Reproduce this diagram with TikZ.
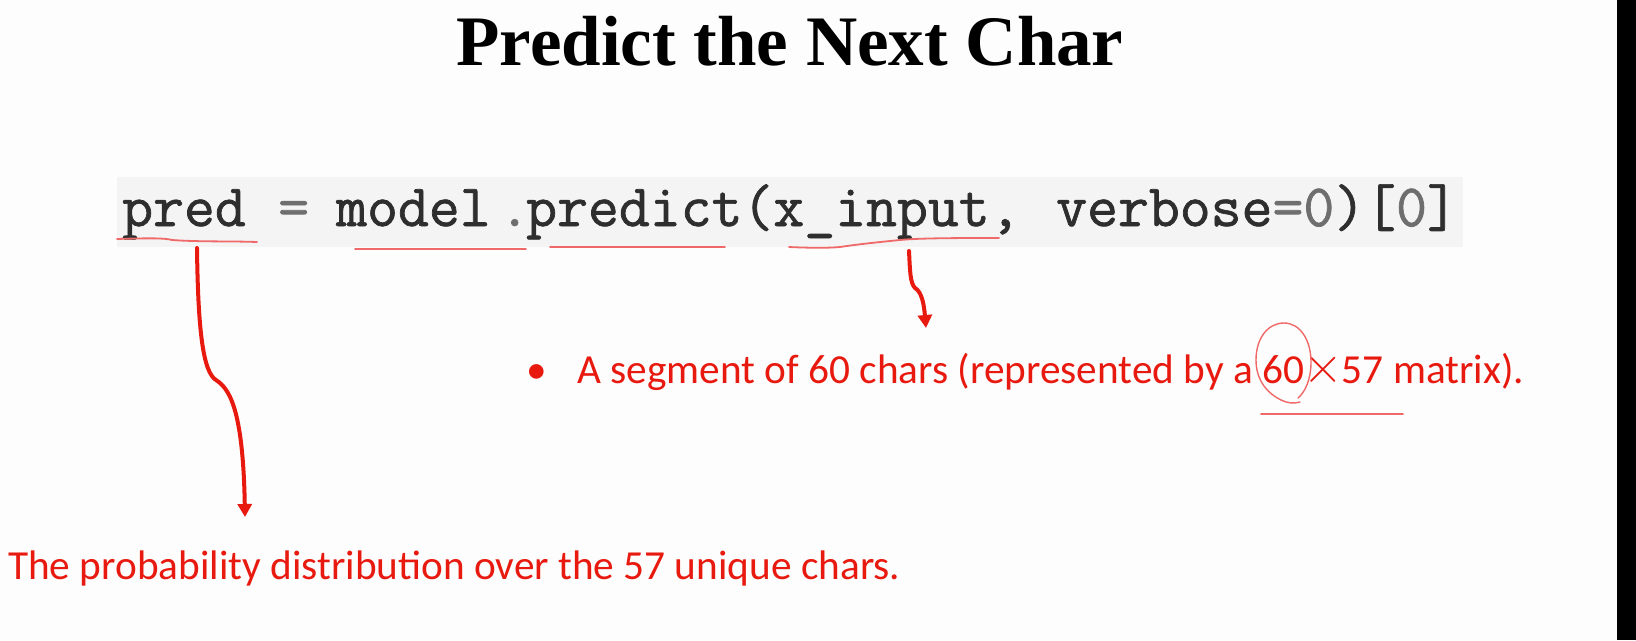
\documentclass[tikz,border=0pt]{standalone}
\usepackage{fontspec}
\usetikzlibrary{arrows.meta}
\newfontfamily\titlefont{Liberation Serif}
\newfontfamily\codefont{Latin Modern Mono}[FakeBold=1.2]
\newfontfamily\notefont{Carlito}
\newfontfamily\timesfont{Latin Modern Roman}
\definecolor{bgc}{HTML}{FDFDFD}
\definecolor{codebg}{HTML}{F4F4F4}
\definecolor{codetxt}{HTML}{2E2E2E}
\definecolor{codegray}{HTML}{6E6E6E}
\definecolor{annred}{RGB}{232,25,15}
\definecolor{penred}{RGB}{240,105,105}
\tikzset{
  title/.style={font=\titlefont\bfseries\fontsize{71}{80}\selectfont, text=black, inner sep=0pt},
  code/.style={font=\codefont\fontsize{60}{66}\selectfont, text=codetxt, inner sep=0pt, anchor=base west},
  codeop/.style={code, text=codegray},
  note/.style={font=\notefont\fontsize{41.3}{48}\selectfont, text=annred, inner sep=0pt},
  pen/.style={draw=penred, line width=1.8pt, line cap=round, line join=round},
  bigarrow/.style={draw=annred, line width=4pt, line cap=round, -{Triangle[width=14pt,length=13pt]}},
}
\begin{document}
\begin{tikzpicture}[x=1pt,y=-1pt]
\fill[bgc] (0,0) rectangle (1636,640);
\useasboundingbox (0,0) rectangle (1636,640);
\fill[black] (1617,0) rectangle (1636,640);
% title
\node[title, anchor=base] (ttl) at (790,65) {Predict the Next Char};
% code box
\fill[codebg] (117,177) rectangle (1463,247);
\node[code] (cpred) at (122,226) {pred};
\node[codeop] (ceq) at (278,226) {=};
\node[code] (cmodel) at (336,226) {model};
\node[codeop] (cdot) at (499,226) {.};
\node[code] (cpredict) at (526,226) {predict(x\_input,};
\node[code] (cverb) at (1056,226) {verbose\textcolor{codegray}{=0})[\textcolor{codegray}{0}]};
% pen underlines
\draw[pen] (117,239) .. controls (150,238) and (165,238) .. (172,240) .. controls (200,242) and (230,241) .. (257,242);
\draw[pen] (355,249) -- (526,249);
\draw[pen] (550,247) -- (725,247);
\draw[pen] (789,247) .. controls (810,248) and (830,248) .. (840,247) .. controls (860,244) and (880,242) .. (900,240) .. controls (920,238) and (960,238) .. (999,238);
% annotations
\node[note, anchor=base west] (bottomnote) at (8,579) {The probability distribution over the 57 unique chars.};
\node[note, anchor=base] (bullet) at (537,383) {•};
\node[note, anchor=base west] (bulletnote) at (577,383) {A segment of 60 chars (represented by a 60{\timesfont\fontsize{55}{60}\selectfont\kern-1pt ×\kern-1pt}57 matrix).};
% circle and underline on 60x57
\draw[pen, line width=1.4pt] (1300,402) .. controls (1294,404) and (1287,403) .. (1281,400)
  .. controls (1265,392) and (1256,378) .. (1256,360)
  .. controls (1256,338) and (1268,323) .. (1284,323)
  .. controls (1300,323) and (1311,340) .. (1311,362)
  .. controls (1311,380) and (1305,392) .. (1298,398);
\draw[pen, line width=1.6pt] (1261,414) -- (1403,414);
% arrows
\coordinate (a1s) at (197,248);
\coordinate (a1e) at (245,517);
\draw[bigarrow] (a1s) .. controls (198,330) and (203,372) .. (216,380)
  .. controls (228,388) and (243,405) .. (a1e);
\coordinate (a2s) at (909,251);
\coordinate (a2e) at (926,328);
\draw[bigarrow] (a2s) .. controls (910,270) and (910,283) .. (915,288)
  .. controls (922,292) and (924,305) .. (a2e);
\end{tikzpicture}
\end{document}
